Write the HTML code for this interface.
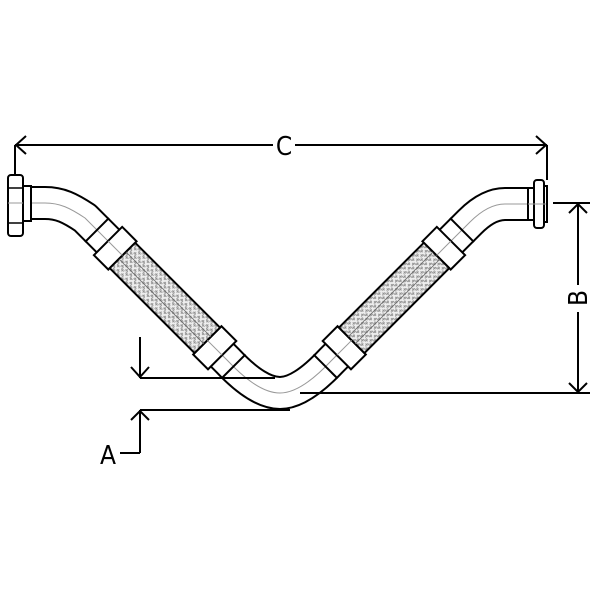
<!DOCTYPE html>
<html><head><style>html,body{margin:0;padding:0;background:#fff}svg{display:block}</style></head>
<body>
<svg width="600" height="600" viewBox="0 0 600 600" xmlns="http://www.w3.org/2000/svg">
<defs>
<pattern id="br" width="6" height="6" patternUnits="userSpaceOnUse">
<rect width="6" height="6" fill="#eeeeee"/>
<path d="M0 1.5H3M3 4.5H6M1.5 0V3M4.5 3V6M0 1.5V4.5M3 1.5V4.5" stroke="#888" stroke-width="0.8" fill="none"/>
</pattern>
</defs>
<g fill="none" stroke-linejoin="round">
<path d="M28 203 H45 C60 203 70 208 85 218 L228 361 Q258 393 280 393 Q301 393 331 361 L470 222 Q488 204 505 204 H530" stroke="#000" stroke-width="34"/>
<path d="M28 203 H45 C60 203 70 208 85 218 L228 361 Q258 393 280 393 Q301 393 331 361 L470 222 Q488 204 505 204 H530" stroke="#fff" stroke-width="30"/>
<path d="M28 203 H45 C60 203 70 208 85 218 L228 361 Q258 393 280 393 Q301 393 331 361 L470 222 Q488 204 505 204 H530" stroke="#999" stroke-width="1"/>
</g>
<g transform="translate(97,230) rotate(45)" stroke="#000" stroke-width="2">
<line x1="0" y1="-17" x2="0" y2="17"/>
<line x1="193" y1="-17" x2="193" y2="17"/>
<rect x="15.6" y="-20" width="20.4" height="40" fill="#fff"/>
<rect x="156" y="-20" width="21" height="40" fill="#fff"/>
<rect x="36" y="-18" width="120" height="36" fill="url(#br)"/>
<line x1="36" y1="-5" x2="156" y2="-5" stroke="#666" stroke-width="0.8"/>
<line x1="36" y1="5" x2="156" y2="5" stroke="#666" stroke-width="0.8"/>
<line x1="15.6" y1="0" x2="36" y2="0" stroke="#999" stroke-width="1"/>
<line x1="156" y1="0" x2="177" y2="0" stroke="#999" stroke-width="1"/>
</g>
<g transform="translate(462,230) rotate(135)" stroke="#000" stroke-width="2">
<line x1="0" y1="-17" x2="0" y2="17"/>
<line x1="193" y1="-17" x2="193" y2="17"/>
<rect x="15.6" y="-20" width="20.4" height="40" fill="#fff"/>
<rect x="156" y="-20" width="21" height="40" fill="#fff"/>
<rect x="36" y="-18" width="120" height="36" fill="url(#br)"/>
<line x1="36" y1="-5" x2="156" y2="-5" stroke="#666" stroke-width="0.8"/>
<line x1="36" y1="5" x2="156" y2="5" stroke="#666" stroke-width="0.8"/>
<line x1="15.6" y1="0" x2="36" y2="0" stroke="#999" stroke-width="1"/>
<line x1="156" y1="0" x2="177" y2="0" stroke="#999" stroke-width="1"/>
</g>
<g stroke="#000" stroke-width="2" fill="#fff">
<rect x="23" y="186" width="8" height="35"/>
<rect x="8" y="175" width="15" height="61" rx="3"/>
<line x1="8" y1="188" x2="23" y2="188" stroke-width="1.5"/>
<line x1="8" y1="223" x2="23" y2="223" stroke-width="1.5"/>
<line x1="8" y1="203" x2="23" y2="203" stroke="#999" stroke-width="1"/>
</g>
<g stroke="#000" stroke-width="2" fill="#fff">
<rect x="528" y="188" width="6" height="32"/>
<rect x="543" y="186" width="4" height="36"/>
<rect x="534" y="180" width="10" height="48" rx="3"/>
<line x1="528" y1="204" x2="546" y2="204" stroke="#999" stroke-width="1"/>
</g>
<g stroke="#000" stroke-width="2" fill="none">
<line x1="15" y1="145" x2="273" y2="145"/>
<line x1="295" y1="145" x2="547" y2="145"/>
<line x1="15" y1="145" x2="15" y2="174"/>
<line x1="547" y1="145" x2="547" y2="180"/>
<path d="M26 136 L16 145 L26 154"/>
<path d="M536 136 L546 145 L536 154"/>
<line x1="553" y1="203" x2="590" y2="203"/>
<line x1="300" y1="393" x2="590" y2="393"/>
<line x1="578" y1="203" x2="578" y2="285"/>
<line x1="578" y1="312" x2="578" y2="393"/>
<path d="M569 213 L578 204 L587 213"/>
<path d="M569 383 L578 392 L587 383"/>
<line x1="140" y1="378" x2="275" y2="378"/>
<line x1="140" y1="337" x2="140" y2="378"/>
<path d="M131 367 L140 377 L149 367"/>
<line x1="140" y1="410" x2="290" y2="410"/>
<line x1="140" y1="410" x2="140" y2="453"/>
<line x1="120" y1="453" x2="140" y2="453"/>
<path d="M131 420 L140 411 L149 420"/>
</g>
<g font-family="DejaVu Sans Condensed, DejaVu Sans, sans-serif" font-size="26" fill="#000">
<text x="284" y="155" text-anchor="middle">C</text>
<text x="108" y="464" text-anchor="middle">A</text>
<text x="587" y="298" text-anchor="middle" transform="rotate(-90 587 298)">B</text>
</g>
</svg>
</body></html>
